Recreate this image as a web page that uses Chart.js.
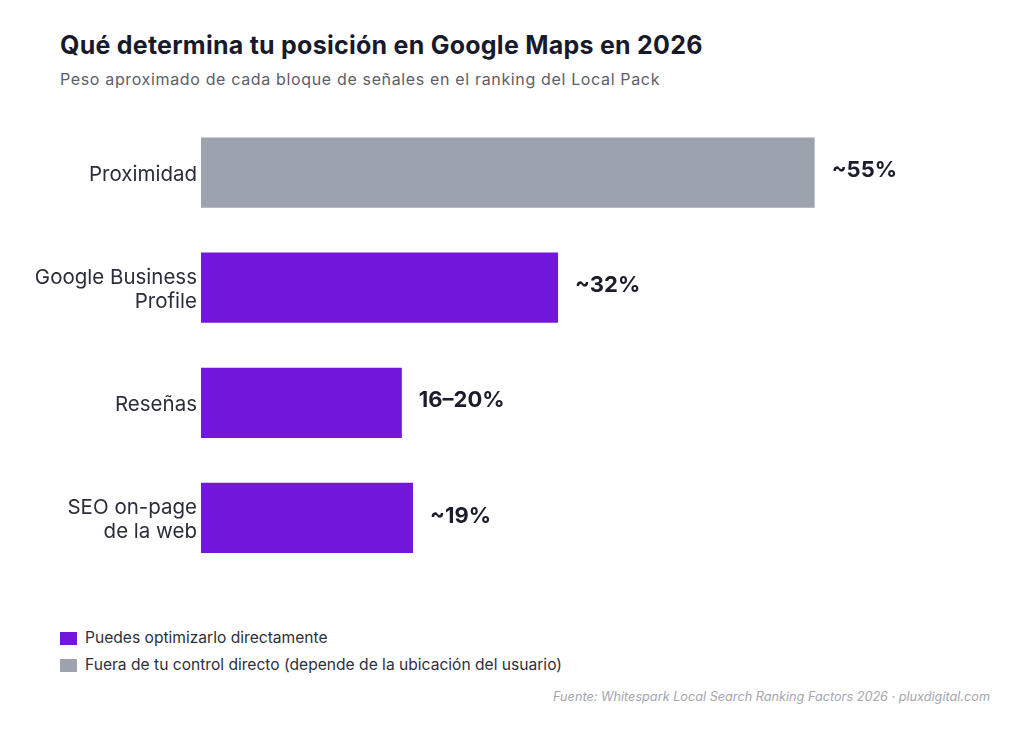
<!DOCTYPE html>
<html lang="es">
<head>
<meta charset="utf-8">
<script src="https://cdn.jsdelivr.net/npm/chart.js@4"></script>
<style>
  body { margin: 0; background: #fff; font-family: Inter, "Open Sans", sans-serif; }
  #wrap { position: relative; width: 1024px; height: 739px; overflow: hidden; background: #fff; }
  h1 { position: absolute; left: 60px; top: 30px; margin: 0; font-size: 25px; font-weight: 700; color: #181a2c; letter-spacing: 0.25px; }
  .sub { position: absolute; left: 60px; top: 69px; margin: 0; font-size: 16px; color: #5c5e6a; letter-spacing: 0.65px; }
  #chartBox { position: absolute; left: 0; top: 86.5px; width: 1024px; height: 504.5px; }
  .legend { position: absolute; left: 60px; top: 624px; font-size: 15.6px; color: #2e303c; }
  .legend div { height: 27px; display: flex; align-items: center; }
  .legend span.sw { display: inline-block; width: 17px; height: 13px; margin-right: 8px; margin-top: 2px; }
  .foot { position: absolute; right: 34px; top: 689px; font-size: 12.7px; font-style: italic; color: #a4a6ae; }
</style>
</head>
<body>
<div id="wrap">
  <h1>Qué determina tu posición en Google Maps en 2026</h1>
  <p class="sub">Peso aproximado de cada bloque de señales en el ranking del Local Pack</p>
  <div id="chartBox"><canvas id="chart"></canvas></div>
  <div class="legend">
    <div><span class="sw" style="background:#7216dc"></span>Puedes optimizarlo directamente</div>
    <div><span class="sw" style="background:#9ca3ae"></span>Fuera de tu control directo (depende de la ubicación del usuario)</div>
  </div>
  <div class="foot">Fuente: Whitespark Local Search Ranking Factors 2026 · pluxdigital.com</div>
</div>
<script>
// datos del gráfico
const categorias = [['Proximidad'], ['Google Business', 'Profile'], ['Reseñas'], ['SEO on-page', 'de la web']];
const pesos = [55, 32, 18, 19];
const etiquetas = ['~55%', '~32%', '16–20%', '~19%'];
const controlable = [false, true, true, true];

const PURPLE = '#7216dc';
const GRAY = '#9ca3ae';

// etiquetas de valor al final de cada barra
const valueLabels = {
  id: 'valueLabels',
  afterDatasetsDraw(chart) {
    const ctx = chart.ctx;
    const meta = chart.getDatasetMeta(0);
    ctx.save();
    ctx.font = '700 22px Inter, "Open Sans", sans-serif';
    ctx.fillStyle = '#1b1d2c';
    ctx.textBaseline = 'middle';
    ctx.textAlign = 'left';
    meta.data.forEach((bar, i) => {
      ctx.fillText(etiquetas[i], bar.x + 17, bar.y - 2);
    });
    ctx.restore();
  }
};

new Chart(document.getElementById('chart'), {
  type: 'bar',
  data: {
    labels: categorias,
    datasets: [{
      data: pesos,
      backgroundColor: controlable.map(c => c ? PURPLE : GRAY),
      borderWidth: 0,
      barPercentage: 0.61,
      categoryPercentage: 1
    }]
  },
  options: {
    indexAxis: 'y',
    responsive: true,
    maintainAspectRatio: false,
    animation: false,
    layout: { padding: { top: 1, bottom: 16, left: 0, right: 42 } },
    plugins: {
      legend: { display: false },
      tooltip: { enabled: false }
    },
    scales: {
      x: {
        display: false,
        min: 0,
        max: 70
      },
      y: {
        grid: { display: false, drawTicks: false },
        border: { display: false },
        afterFit: s => { s.width = 201; },
        ticks: {
          padding: 4,
          labelOffset: 2,
          color: '#2b2d3a',
          font: { size: 20.5, family: 'Inter, "Open Sans", sans-serif', lineHeight: 1.17 }
        }
      }
    }
  },
  plugins: [valueLabels]
});
</script>
</body>
</html>
